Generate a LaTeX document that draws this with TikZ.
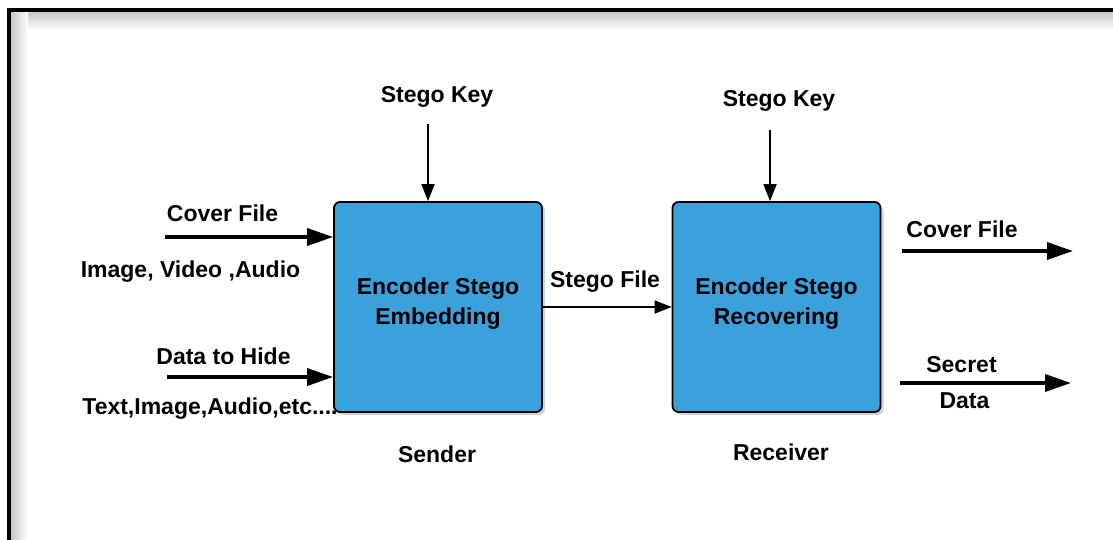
\documentclass[tikz,border=0pt]{standalone}
\usepackage{fontspec}
\setmainfont{Liberation Sans}
\usepackage{tikz}
\usetikzlibrary{arrows.meta,shadows,math}
\definecolor{stegoblue}{RGB}{58,161,221}
\tikzset{
  txt/.style = {font=\bfseries\fontsize{23}{30}\selectfont},
  lbl/.style = {txt, anchor=base, inner sep=0pt},
  stegobox/.style = {txt, draw, line width=1.8pt, rounded corners=6pt,
    fill=stegoblue, align=center, text depth=12pt,
    drop shadow={shadow xshift=3pt, shadow yshift=-3pt, opacity=0.35}},
  fatarrow/.style = {line width=3.6pt, -{Triangle[length=26pt,width=17pt]}},
  thinarrow/.style = {line width=1.8pt, -{Triangle[length=17pt,width=13pt]}}
}

\begin{document}
\begin{tikzpicture}[x=1pt, y=-1pt]
    \tikzmath{
      \boxW = 208;
      \boxH = 210;
      \boxY = 307;
      \coverY = 237;
      \hideY = 377;
    }
    \useasboundingbox (0,0) rectangle (1113,540);
    \clip (0,0) rectangle (1113,540);
    \shade[top color=black!22, bottom color=white] (11,12) rectangle (1113,30);
    \shade[left color=black!22, right color=white] (11,12) rectangle (28,540);
    \draw[line width=4pt] (9,10) rectangle (1130,560);
    \node[stegobox, minimum width=\boxW pt, minimum height=\boxH pt]
    (embed) at (438,\boxY) {Encoder Stego\\Embedding};
    \node[stegobox, minimum width=\boxW pt, minimum height=\boxH pt]
    (recover) at (776.5,\boxY) {Encoder Stego\\Recovering};
    \node[lbl] (key1) at (437,103) {Stego Key};
    \node[lbl] (key2) at (779,107) {Stego Key};
    \node[lbl] (coverIn) at (222.5,221) {Cover File};
    \node[lbl] (media) at (190.5,277) {Image, Video ,Audio};
    \node[lbl] (hide) at (223.5,364) {Data to Hide};
    \node[lbl] (kinds) at (210,414) {Text,Image,Audio,etc....};
    \node[lbl] (stegoFile) at (605,287) {Stego File};
    \node[lbl] (coverOut) at (962,237) {Cover File};
    \node[lbl] (secret) at (961.5,372) {Secret};
    \node[lbl] (data) at (964.5,408) {Data};
    \node[lbl] (sender) at (437,462) {Sender};
    \node[lbl] (receiver) at (781,460) {Receiver};
    \coordinate (coverStart) at (165,\coverY);
    \coordinate (hideStart) at (167,\hideY);
    \coordinate (key1Start) at (428,124);
    \coordinate (key2Start) at (770,130);
    \coordinate (coverOutStart) at (902,251);
    \coordinate (coverOutEnd) at (1073,251);
    \coordinate (secretStart) at (900,383);
    \coordinate (secretEnd) at (1071,383);
    \draw[fatarrow] (coverStart) -- (coverStart -| embed.west);
    \draw[fatarrow] (hideStart) -- (hideStart -| embed.west);
    \draw[thinarrow] (key1Start) -- (key1Start |- embed.north);
    \draw[thinarrow] (key2Start) -- (key2Start |- recover.north);
    \draw[thinarrow] (embed) -- (recover);
    \draw[fatarrow] (coverOutStart) -- (coverOutEnd);
    \draw[fatarrow] (secretStart) -- (secretEnd);
  \end{tikzpicture}
\end{document}
